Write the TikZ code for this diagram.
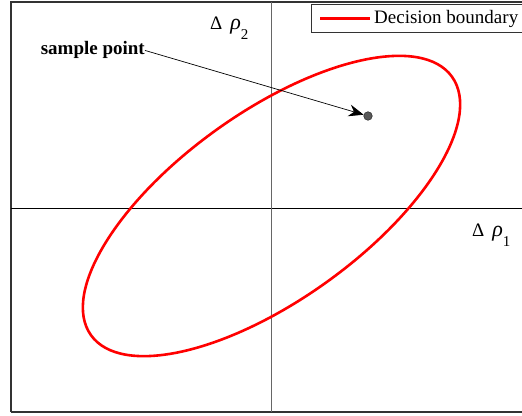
\documentclass[tikz,border=0pt]{standalone}
\usepackage{fontspec}
\setmainfont{Liberation Serif}
\usepackage{xcolor}
\usetikzlibrary{positioning,arrows.meta,calc}
\definecolor{bound}{HTML}{FF0000}
\definecolor{frame}{HTML}{333333}
\newcommand{\drho}[1]{Δ\hspace{8pt}{\fontsize{22}{24}\selectfont\itshape ρ}\raisebox{-10pt}{\fontsize{15}{16}\selectfont #1}}

\begin{document}
\begin{tikzpicture}[x=1pt, y=1pt, lbl/.style={font=\fontsize{19}{22}\selectfont, inner sep=0pt}]
\useasboundingbox (0,0) rectangle (522,415);
\clip (0,0) rectangle (522,415);
% frame and axes
\draw[frame, line width=1.5pt] (11,3) -- (11,413) -- (530,413);
\draw[frame, line width=1.5pt] (11,3) -- (530,3);
\draw[black, line width=0.8pt] (11,207) -- (530,207);
\draw[gray!80!black, line width=1pt] (271,3) -- (271,413);
% decision boundary
\draw[bound, line width=2.6pt, rotate around={35.6:(271.5,209)}] (271.5,209) ellipse [x radius=222, y radius=94];
% axis labels
\node[lbl, anchor=base west] (r2) at (210,385) {\drho{2}};
\node[lbl, anchor=base west] (r1) at (472,178) {\drho{1}};
% sample point
\node[circle, draw=black!80, fill=gray!70!black, inner sep=0pt, minimum size=8.5pt, line width=0.6pt] (pt) at (368,299) {};
\node[lbl, font=\fontsize{19}{22}\selectfont\bfseries, anchor=base east] (sp) at (145,360) {sample point};
\draw[-{Stealth[length=15pt, width=12pt, inset=5pt]}, line width=0.7pt] (sp.east) -- (pt);
% legend
\node[draw=frame, line width=1.2pt, minimum width=219pt, minimum height=28pt, anchor=north west, inner sep=0pt] (leg) at (311,411) {};
\coordinate[right=9pt of leg.west] (la);
\coordinate[right=59pt of leg.west] (lb);
\draw[bound, line width=2.6pt] (la) -- (lb);
\node[lbl, anchor=west] (lt) at ($(lb)+(4,0)$) {Decision boundary};
\end{tikzpicture}
\end{document}
